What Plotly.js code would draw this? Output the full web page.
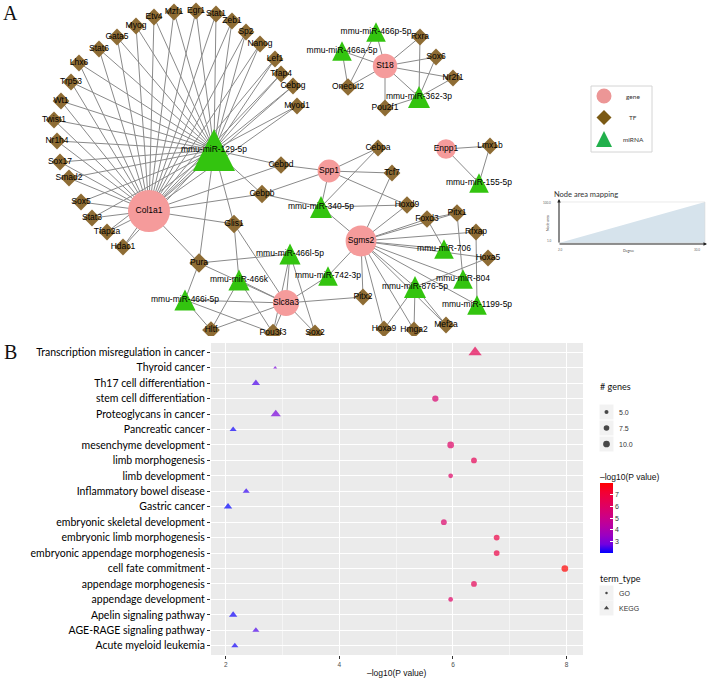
<!DOCTYPE html>
<html><head><meta charset="utf-8">
<script src="https://cdn.plot.ly/plotly-3.0.1.min.js"></script>
<style>html,body{margin:0;padding:0;background:#fff}#chart{width:708px;height:680px}</style>
</head><body><div id="chart"></div>
<script>
// ================= Panel A: network data =================
const nodeNames = [
 "Etv4","Mzf1","Egr1","Stat1","Zeb1","Sp2","Nanog","Lef1","Tfap4","Cebpg","Myod1",
 "Myog","Gata5","Stat6","Lhx6","Trp53","Wt1","Twist1","Nr1h4","Sox17","Smad2","Sox5",
 "Stat3","Tfap2a","Hdac1","Cebpd","Cebpb","Glis1","Pura","Hltf","Pou3f3","Sox2",
 "Cebpa","Lmx1b","Tcf7","Hoxd9","Foxd3","Pitx1","Rfxap","Hoxa5","Pitx2","Hoxa9","Hmga2","Mef2a",
 "Rxra","Sox6","Nr2f1","Onecut2","Pou2f1",
 "Col1a1","Spp1","Sgms2","Slc8a3","St18","Enpp1",
 "mmu-miR-129-5p","mmu-miR-466p-5p","mmu-miR-466a-5p","mmu-miR-362-3p","mmu-miR-155-5p",
 "mmu-miR-340-5p","mmu-miR-706","mmu-miR-804","mmu-miR-876-5p","mmu-miR-1199-5p",
 "mmu-miR-742-3p","mmu-miR-466l-5p","mmu-miR-466k","mmu-miR-466i-5p"
];
const nodeTypes = [
 "TF","TF","TF","TF","TF","TF","TF","TF","TF","TF","TF",
 "TF","TF","TF","TF","TF","TF","TF","TF","TF","TF","TF",
 "TF","TF","TF","TF","TF","TF","TF","TF","TF","TF",
 "TF","TF","TF","TF","TF","TF","TF","TF","TF","TF","TF","TF",
 "TF","TF","TF","TF","TF",
 "gene","gene","gene","gene","gene","gene",
 "miRNA","miRNA","miRNA","miRNA","miRNA",
 "miRNA","miRNA","miRNA","miRNA","miRNA",
 "miRNA","miRNA","miRNA","miRNA"
];
// network layout (Cytoscape node positions)
const nodeX = [
 154,174,196,216,232,246,260,275,281,293,297,
 136,117,99,79,71,61,54,57,60,69,81,
 92,107,123,281,262,234,199,211,273,315,
 378,490,392,407,427,457,476,488,363,384,414,446,
 420,436,453,348,385,
 149,329,361,286,385,446,
 214,376,342,419,479,
 321,444,463,415,477,
 328,290,239,185
];
const nodeY = [
 17,12,11,14,21,32,44,59,74,86,106,
 26,37,49,63,82,101,120,141,162,178,202,
 218,232,247,165,194,224,263,330,333,333,
 148,146,173,205,219,213,232,258,297,329,330,325,
 37,57,78,87,108,
 211,171,241,303,66,149,
 150,32,51,97,183,
 207,249,279,287,305,
 276,254,280,300
];
// targets shared by the two hubs mmu-miR-129-5p and Col1a1
const hubTargets = ["Etv4","Mzf1","Egr1","Stat1","Zeb1","Sp2","Nanog","Lef1","Tfap4","Cebpg","Myod1",
 "Myog","Gata5","Stat6","Lhx6","Trp53","Wt1","Twist1","Nr1h4","Sox17","Smad2","Sox5",
 "Stat3","Tfap2a","Hdac1","Cebpd","Cebpb","Glis1","Pura"];
const otherEdges = [
 ["mmu-miR-129-5p","Col1a1"],
 ["Spp1","Cebpd"],["Spp1","Cebpb"],["Spp1","Tcf7"],["Spp1","Cebpa"],["Spp1","mmu-miR-340-5p"],["Spp1","Hoxd9"],
 ["mmu-miR-340-5p","Cebpb"],["mmu-miR-340-5p","Cebpa"],["mmu-miR-340-5p","Hoxd9"],["mmu-miR-340-5p","Sgms2"],
 ["Sgms2","Tcf7"],["Sgms2","Hoxd9"],["Sgms2","Foxd3"],["Sgms2","Pitx1"],["Sgms2","Rfxap"],["Sgms2","mmu-miR-706"],
 ["Sgms2","Hoxa5"],["Sgms2","mmu-miR-804"],["Sgms2","mmu-miR-1199-5p"],["Sgms2","mmu-miR-876-5p"],["Sgms2","Mef2a"],
 ["Sgms2","Hmga2"],["Sgms2","Hoxa9"],["Sgms2","Pitx2"],["Sgms2","mmu-miR-742-3p"],
 ["Foxd3","Pitx1"],["Foxd3","mmu-miR-706"],["Pitx1","mmu-miR-804"],["Rfxap","mmu-miR-1199-5p"],
 ["Hoxa5","mmu-miR-876-5p"],["mmu-miR-876-5p","Hoxa9"],["mmu-miR-876-5p","Hmga2"],["mmu-miR-876-5p","Mef2a"],
 ["Slc8a3","Pura"],["Slc8a3","Glis1"],["Slc8a3","mmu-miR-466k"],["Slc8a3","mmu-miR-466i-5p"],["Slc8a3","mmu-miR-466l-5p"],
 ["Slc8a3","mmu-miR-742-3p"],["Slc8a3","Pitx2"],["Slc8a3","Hltf"],["Slc8a3","Pou3f3"],["Slc8a3","Sox2"],
 ["Pura","mmu-miR-466i-5p"],["Pura","mmu-miR-466l-5p"],["Glis1","mmu-miR-466k"],
 ["mmu-miR-466k","Hltf"],["mmu-miR-466k","Pou3f3"],["mmu-miR-466i-5p","Hltf"],["mmu-miR-466i-5p","Pou3f3"],
 ["mmu-miR-466l-5p","Pou3f3"],["mmu-miR-466l-5p","Sox2"],
 ["Enpp1","Lmx1b"],["Enpp1","mmu-miR-155-5p"],["Lmx1b","mmu-miR-155-5p"],
 ["St18","mmu-miR-466p-5p"],["St18","mmu-miR-466a-5p"],["St18","Rxra"],["St18","Sox6"],["St18","Nr2f1"],
 ["St18","Onecut2"],["St18","Pou2f1"],["St18","mmu-miR-362-3p"],
 ["Onecut2","mmu-miR-466a-5p"],["Onecut2","mmu-miR-466p-5p"],
 ["mmu-miR-362-3p","Rxra"],["mmu-miR-362-3p","Sox6"],["mmu-miR-362-3p","Nr2f1"],["mmu-miR-362-3p","Pou2f1"]
];
const legendTypes = ["gene","TF","miRNA"];

// ================= Panel B: enrichment data =================
const terms = ["Transcription misregulation in cancer","Thyroid cancer","Th17 cell differentiation",
 "stem cell differentiation","Proteoglycans in cancer","Pancreatic cancer","mesenchyme development",
 "limb morphogenesis","limb development","Inflammatory bowel disease","Gastric cancer",
 "embryonic skeletal development","embryonic limb morphogenesis","embryonic appendage morphogenesis",
 "cell fate commitment","appendage morphogenesis","appendage development","Apelin signaling pathway",
 "AGE-RAGE signaling pathway","Acute myeloid leukemia"];
const termType = ["KEGG","KEGG","KEGG","GO","KEGG","KEGG","GO","GO","GO","KEGG","KEGG",
 "GO","GO","GO","GO","GO","GO","KEGG","KEGG","KEGG"];
const negLog10P = [6.39,2.87,2.53,5.69,2.88,2.13,5.96,6.37,5.96,2.36,2.04,5.84,6.77,6.77,7.97,6.37,5.96,2.13,2.53,2.16];
const geneCounts = [12,3,5,9,7,4,10,8,6,4,5,8,8,8,10,8,6,5,4,4];
const xTicks = [2,4,6,8];
const sizeBreaks = [5,7.5,10];
const colorTicks = [3,4,5,6,7];
const typeLevels = ["GO","KEGG"];

// ================= build =================
const W = 708, H = 680, NET_H = 336;
const colors = {gene:"#F59B9B", TF:"#8E6C34", miRNA:"#33C40F", edge:"#8a8a8a"};
const legendColors = {gene:"#EC9696", TF:"#7B5A14", miRNA:"#22B04C"};
const idx = {}; nodeNames.forEach((n,i)=>idx[n]=i);
const edges = hubTargets.flatMap(t=>[["mmu-miR-129-5p",t],["Col1a1",t]]).concat(otherEdges);
const degree = nodeNames.map(()=>0);
edges.forEach(([a,b])=>{degree[idx[a]]++; degree[idx[b]]++;});
const nodeSize = i => nodeTypes[i]==="TF" ? 15+0.9*degree[i] : 18+0.8*degree[i];

function shapePath(type, cx, cy, r){
  if(type==="TF") return `M${cx},${cy-r} L${cx+r},${cy} L${cx},${cy+r} L${cx-r},${cy} Z`;
  return `M${cx},${cy-r} L${cx+r},${cy+r} L${cx-r},${cy+r} Z`;
}
function nodeShape(type, cx, cy, d, xref, yref, col, layer){
  const r = d/2;
  if(type==="gene") return {type:"circle", xref, yref, x0:cx-r, x1:cx+r, y0:cy-r, y1:cy+r, fillcolor:col, line:{width:0}, layer};
  return {type:"path", xref, yref, path:shapePath(type,cx,cy,r), fillcolor:col, line:{width:0}, layer};
}

const shapes = [];
edges.forEach(([a,b])=>{
  const i=idx[a], j=idx[b];
  shapes.push({type:"line", xref:"x", yref:"y", x0:nodeX[i], y0:nodeY[i], x1:nodeX[j], y1:nodeY[j],
    line:{color:colors.edge, width:1}, layer:"below"});
});
nodeNames.forEach((n,i)=>{
  shapes.push(nodeShape(nodeTypes[i], nodeX[i], nodeY[i], nodeSize(i), "x", "y", colors[nodeTypes[i]], "below"));
});
// panel B background
shapes.push({type:"rect", xref:"x2 domain", yref:"y2 domain", x0:0, x1:1, y0:0, y1:1, fillcolor:"#EBEBEB", line:{width:0}, layer:"below"});
// panel A legend box + keys
shapes.push({type:"rect", xref:"x3", yref:"y3", x0:591, x1:652, y0:86, y1:152, fillcolor:"#fff", line:{color:"#d4d4d4", width:1}, layer:"below"});
legendTypes.forEach((t,k)=>{
  shapes.push(nodeShape(t, 604, 96+k*21.5, t==="miRNA"?16:15, "x3", "y3", legendColors[t], "above"));
});
// # genes / term_type legend key backgrounds
[412,428,444,593,608].forEach(yc=>{
  shapes.push({type:"rect", xref:"x3", yref:"y3", x0:599.5, x1:613.5, y0:yc-7.5, y1:yc+7.5, fillcolor:"#F2F2F2", line:{width:0}, layer:"below"});
});
// node area mapping box outline
shapes.push({type:"rect", xref:"x4 domain", yref:"y4 domain", x0:0, x1:1, y0:0, y1:1, fillcolor:"rgba(0,0,0,0)", line:{color:"#dcdcdc", width:0.6}});

// ---- size scale for panel B ----
const gmin = Math.min(...geneCounts), gmax = Math.max(...geneCounts);
const sScale = g => 1 + 5*Math.sqrt(Math.max(0,(g-gmin))/(gmax-gmin));
const circlePx = g => 1.3*sScale(g) - 0.3;
const trianglePx = g => (1.85*sScale(g) + 2.2)/1.155;

const colorscale = [[0,"rgb(0,0,255)"],[0.125,"rgb(115,0,224)"],[0.25,"rgb(154,0,194)"],[0.375,"rgb(181,0,165)"],
  [0.5,"rgb(202,0,137)"],[0.625,"rgb(218,0,108)"],[0.75,"rgb(232,0,79)"],[0.875,"rgb(244,0,49)"],[1,"rgb(255,0,0)"]];
const cmin = Math.min(...negLog10P), cmax = Math.max(...negLog10P);

const traces = [];
// node labels
traces.push({type:"scatter", mode:"text", x:nodeX, y:nodeY, text:nodeNames, xaxis:"x", yaxis:"y",
  textposition:"middle center", textfont:{family:"Liberation Sans, Arial, sans-serif", size:8.5, color:"#000"},
  hoverinfo:"skip", cliponaxis:true});
// enrichment points
traces.push({type:"scatter", mode:"markers", x:negLog10P, y:terms, xaxis:"x2", yaxis:"y2",
  marker:{symbol:termType.map(t=>t==="GO"?"circle":"triangle-up"),
    size:geneCounts.map((g,i)=>termType[i]==="GO"?circlePx(g):trianglePx(g)),
    color:negLog10P, colorscale, cmin, cmax, line:{width:0},
    colorbar:{x:600/W, xanchor:"left", y:1-518/H, yanchor:"middle", len:70, lenmode:"pixels",
      thickness:13, thicknessmode:"pixels", xpad:0, ypad:0, outlinewidth:0,
      tickmode:"array", tickvals:colorTicks, ticks:"inside", ticklen:3, tickcolor:"#fff", tickwidth:1,
      tickfont:{family:"Liberation Sans, Arial, sans-serif", size:7, color:"#333"}, title:{text:""}}},
  hoverinfo:"skip"});
// size legend keys
traces.push({type:"scatter", mode:"markers", x:sizeBreaks.map(()=>606.5), y:sizeBreaks.map((b,k)=>412+16*k),
  xaxis:"x3", yaxis:"y3", marker:{size:sizeBreaks.map(circlePx), color:"#000", line:{width:0}}, hoverinfo:"skip"});
// term type keys
traces.push({type:"scatter", mode:"markers", x:typeLevels.map(()=>606.5), y:typeLevels.map((t,k)=>593+15*k),
  xaxis:"x3", yaxis:"y3", marker:{symbol:typeLevels.map(t=>t==="GO"?"circle":"triangle-up"), size:[2.5,4.5], color:"#000", line:{width:0}}, hoverinfo:"skip"});
// node area mapping
const mapDegree = [0,1], mapArea = [0,1];
traces.push({type:"scatter", mode:"lines", x:mapDegree, y:mapArea, xaxis:"x4", yaxis:"y4",
  fill:"tozeroy", fillcolor:"#D6E3EC", line:{width:0, color:"#D6E3EC"}, hoverinfo:"skip"});

const ann = [];
const lab = (text,x,y,o={}) => ann.push(Object.assign({text, x, y, xref:"x3", yref:"y3", showarrow:false,
  xanchor:"left", yanchor:"middle", font:{family:"Liberation Sans, Arial, sans-serif", size:7, color:"#222"}}, o));
lab("A", 10, 13, {xanchor:"center", font:{family:"Liberation Serif, Times New Roman, serif", size:20, color:"#111"}});
lab("B", 10, 352, {xanchor:"center", font:{family:"Liberation Serif, Times New Roman, serif", size:20, color:"#111"}});
legendTypes.forEach((t,k)=>lab(t, 633, 96+k*21.5, {xanchor:"center", font:{family:"Lato, sans-serif", size:6.5, color:"#333"}}));
lab("Node area mapping", 552, 194, {font:{family:"Lato, sans-serif", size:7.5, color:"#333"}});
lab("Node area", 548, 223, {xanchor:"center", textangle:-90, font:{family:"Lato, sans-serif", size:3.5, color:"#444"}});
lab("Degree", 628, 251, {xanchor:"center", font:{family:"Lato, sans-serif", size:3.5, color:"#444"}});
lab("100.0", 553, 203, {xanchor:"right", font:{family:"Lato, sans-serif", size:3, color:"#666"}});
lab("1.0", 553, 241, {xanchor:"right", font:{family:"Lato, sans-serif", size:3, color:"#666"}});
lab("2.0", 560, 250, {xanchor:"center", font:{family:"Lato, sans-serif", size:3, color:"#666"}});
lab("30.0", 697, 250, {xanchor:"center", font:{family:"Lato, sans-serif", size:3, color:"#666"}});
// arrows of the mapping axes
ann.push({x:559, y:199, ax:559, ay:244, xref:"x3", yref:"y3", axref:"x3", ayref:"y3", text:"", showarrow:true,
  arrowhead:2, arrowsize:0.7, arrowwidth:1, arrowcolor:"#222"});
ann.push({x:707, y:244, ax:558, ay:244, xref:"x3", yref:"y3", axref:"x3", ayref:"y3", text:"", showarrow:true,
  arrowhead:2, arrowsize:0.7, arrowwidth:1, arrowcolor:"#222"});
// panel B legends
lab("# genes", 598, 386, {font:{family:"Lato, sans-serif", size:9, color:"#111"}});
sizeBreaks.forEach((b,k)=>lab(b.toFixed(1), 617, 412+16*k, {font:{family:"Liberation Sans, Arial, sans-serif", size:7, color:"#333"}}));
lab("–log10(P value)", 598, 477, {font:{family:"Liberation Sans, Arial, sans-serif", size:8.5, color:"#111"}});
lab("term_type", 598, 578, {font:{family:"Lato, sans-serif", size:9, color:"#111"}});
typeLevels.forEach((t,k)=>lab(t, 617, 593+15*k, {font:{family:"Liberation Sans, Arial, sans-serif", size:7, color:"#333"}}));
lab("–log10(P value)", 397, 673, {xanchor:"center", font:{family:"Liberation Sans, Arial, sans-serif", size:8.5, color:"#111"}});

const layout = {
  width:W, height:H, margin:{l:0,r:0,t:0,b:0}, paper_bgcolor:"#fff", plot_bgcolor:"rgba(0,0,0,0)",
  showlegend:false, hovermode:false,
  xaxis:{domain:[0,1], range:[0,W], visible:false, fixedrange:true, anchor:"y"},
  yaxis:{domain:[1-NET_H/H,1], range:[NET_H,0], visible:false, fixedrange:true, anchor:"x"},
  xaxis2:{domain:[211/W,583/W], range:[1.74,8.29], anchor:"y2", tickmode:"array", tickvals:xTicks,
    ticks:"outside", ticklen:3, tickcolor:"#333", tickwidth:1, showline:false, zeroline:false,
    showgrid:true, gridcolor:"#fff", gridwidth:1,
    minor:{dtick:1, tick0:0, showgrid:true, gridcolor:"#fff", gridwidth:0.5, ticks:""},
    tickfont:{family:"Liberation Sans, Arial, sans-serif", size:6.5, color:"#4D4D4D"}},
  yaxis2:{domain:[1-655/H,1-343/H], anchor:"x2", type:"category", categoryorder:"array", categoryarray:terms,
    range:[terms.length-0.4,-0.6], ticks:"outside", ticklen:3, tickcolor:"#333", tickwidth:1,
    showline:false, zeroline:false, showgrid:true, gridcolor:"#fff", gridwidth:1,
    tickfont:{family:"Lato, sans-serif", size:10.5, color:"#000"}},
  xaxis3:{domain:[0,1], range:[0,W], visible:false, anchor:"y3"},
  yaxis3:{domain:[0,1], range:[H,0], visible:false, anchor:"x3"},
  xaxis4:{domain:[559/W,705/W], range:[0,1], visible:false, anchor:"y4"},
  yaxis4:{domain:[1-243/H,1-202/H], range:[0,1], visible:false, anchor:"x4"},
  shapes, annotations:ann
};
Plotly.newPlot("chart", traces, layout, {staticPlot:true, displayModeBar:false});
</script></body></html>
